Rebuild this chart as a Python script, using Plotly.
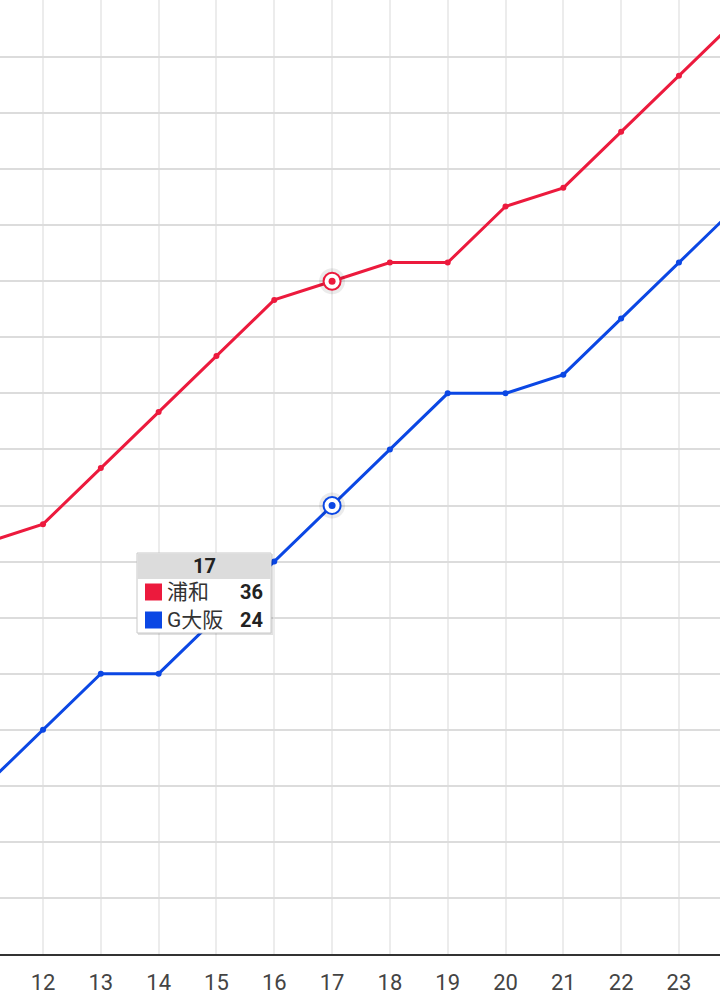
import plotly.graph_objects as go

# ---- data ----
rounds = [11, 12, 13, 14, 15, 16, 17, 18, 19, 20, 21, 22, 23, 24]
urawa = [22, 23, 26, 29, 32, 35, 36, 37, 37, 40, 41, 44, 47, 50]
gosaka = [9, 12, 15, 15, 18, 21, 24, 27, 30, 30, 31, 34, 37, 40]
series_names = ["浦和", "G大阪"]
series_colors = ["#ec1a3d", "#0b47e4"]
hover_round = 17
tick_vals = list(range(12, 24))

W, H = 720, 1002
PLOT_H = 954

fig = go.Figure()

for name, vals, col in zip(series_names, [urawa, gosaka], series_colors):
    fig.add_trace(go.Scatter(
        x=rounds, y=vals, mode="lines+markers", name=name,
        line=dict(color=col, width=3),
        marker=dict(color=col, size=6),
        hoverinfo="skip", showlegend=False,
    ))

hi = rounds.index(hover_round)
for vals, col in zip([urawa, gosaka], series_colors):
    # halo
    fig.add_trace(go.Scatter(
        x=[rounds[hi]], y=[vals[hi]], mode="markers",
        marker=dict(color="rgba(0,0,0,0.08)", size=26, line=dict(width=0)),
        hoverinfo="skip", showlegend=False))
    fig.add_trace(go.Scatter(
        x=[rounds[hi]], y=[vals[hi]], mode="markers",
        marker=dict(color="white", size=17, line=dict(color=col, width=2)),
        hoverinfo="skip", showlegend=False))
    fig.add_trace(go.Scatter(
        x=[rounds[hi]], y=[vals[hi]], mode="markers",
        marker=dict(color=col, size=7, line=dict(width=0)),
        hoverinfo="skip", showlegend=False))

# ---- tooltip (pixel -> paper coords) ----
def px(x):
    return x / W
def py(y):
    return 1 - y / PLOT_H

FONT = "Roboto, 'Noto Sans CJK JP'"
bx0, bx1, by0, by1 = 137, 271, 553, 633
shapes = [
    dict(type="rect", xref="paper", yref="paper", x0=px(bx0 + 1), x1=px(bx1 + 2),
         y0=py(by1 + 2), y1=py(by0 + 1), fillcolor="rgba(0,0,0,0.12)",
         line=dict(width=0), layer="above"),
    dict(type="rect", xref="paper", yref="paper", x0=px(bx0), x1=px(bx1),
         y0=py(by1), y1=py(by0), fillcolor="white",
         line=dict(color="#c8c8c8", width=1), layer="above"),
    dict(type="rect", xref="paper", yref="paper", x0=px(bx0 + 0.5), x1=px(bx1 - 0.5),
         y0=py(579), y1=py(by0 + 0.5), fillcolor="#dcdcdc",
         line=dict(width=0), layer="above"),
]
annotations = [
    dict(xref="paper", yref="paper", x=px(204), y=py(566), text=f"<b>{hover_round}</b>",
         showarrow=False, xanchor="center", yanchor="middle",
         font=dict(family=FONT, size=20, color="#222")),
]
row_y = [592, 620]
for name, vals, col, ry in zip(series_names, [urawa, gosaka], series_colors, row_y):
    shapes.append(dict(type="rect", xref="paper", yref="paper", x0=px(145), x1=px(162),
                       y0=py(ry + 8.5), y1=py(ry - 8.5), fillcolor=col,
                       line=dict(width=0), layer="above"))
    annotations.append(dict(xref="paper", yref="paper", x=px(165), y=py(ry), text=name,
                            showarrow=False, xanchor="left", yanchor="middle",
                            font=dict(family=FONT, size=21, color="#333")))
    annotations.append(dict(xref="paper", yref="paper", x=px(265), y=py(ry),
                            text=f"<b>{vals[hi]}</b>",
                            showarrow=False, xanchor="right", yanchor="middle",
                            font=dict(family=FONT, size=20, color="#222")))

fig.update_layout(
    width=W, height=H,
    margin=dict(l=0, r=0, t=0, b=H - PLOT_H, pad=0),
    paper_bgcolor="white", plot_bgcolor="white",
    hovermode=False,
    shapes=shapes, annotations=annotations,
    xaxis=dict(range=[11.256, 23.71], tickmode="array", tickvals=tick_vals,
               ticktext=[str(t) for t in tick_vals],
               showgrid=True, gridcolor="#ececec", gridwidth=2,
               showline=True, linecolor="#333", linewidth=2, ticks="",
               zeroline=False, ticklabelstandoff=8,
               tickfont=dict(family="Roboto", size=22, color="#444")),
    yaxis=dict(range=[0, 51.05], dtick=3, tick0=0, showticklabels=False,
               showgrid=True, gridcolor="#dcdcdc", gridwidth=2, zeroline=False,
               ticks=""),
)

fig.write_html("out.html", config={"displayModeBar": False},
               post_script="document.body.style.margin='0';document.body.style.padding='0';")
